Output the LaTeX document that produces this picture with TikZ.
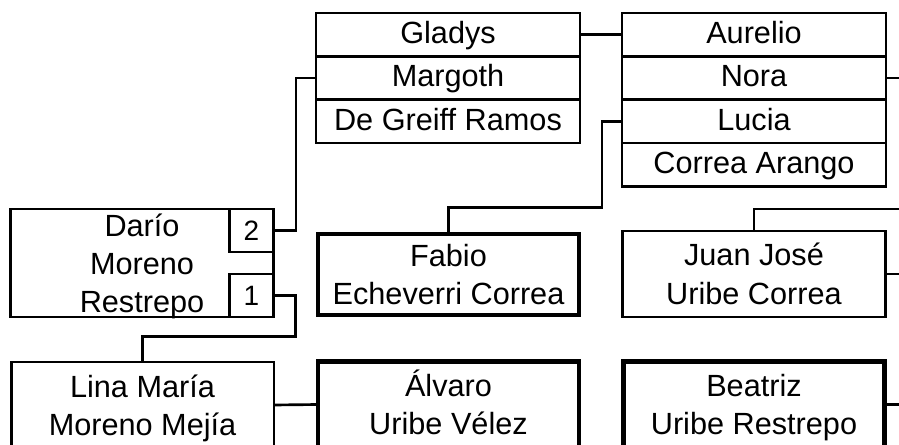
\documentclass[tikz,border=0pt]{standalone}
\usepackage{fontspec}
\setmainfont{Liberation Sans}
\usetikzlibrary{positioning}

\begin{document}
\begin{tikzpicture}[x=0.75pt,y=-0.75pt,
  person/.style={draw,line width=2pt,outer sep=0pt,inner sep=0pt,align=center,
    font=\fontsize{23}{28.5}\selectfont},
  row/.style={person,minimum width=198pt,minimum height=32.5pt,text height=16.5pt,text depth=3pt},
  box/.style={person,minimum width=197pt,minimum height=64.5pt,text height=45pt,text depth=0pt},
  bold/.style={line width=3.4pt,minimum width=196pt},
  slot/.style={draw,line width=2pt,outer sep=0pt,minimum width=33pt,
    minimum height=32.25pt,font=\fontsize{21}{24}\selectfont},
  link/.style={line width=2pt}]
  \path[use as bounding box,clip] (0,0) rectangle (899,445);
  \coordinate (E) at (905,0);
  \coordinate (T) at (905,209);
  % grandparents
  \node[row] (G1) at (448,34.65) {Gladys};
  \node[row, below=0pt of G1] (G2) {Margoth};
  \node[row, below=0pt of G2] (G3) {De Greiff Ramos};
  \node[row] (A1) at (754,34.65) {Aurelio};
  \node[row, below=0pt of A1] (A2) {Nora};
  \node[row, below=0pt of A2] (A3) {Lucia};
  \node[row, below=0pt of A3] (A4) {Correa Arango};
  % parents
  \node[box, minimum height=81pt, text height=73.5pt] (D) at (142,263) {Darío\\Moreno\\Restrepo};
  \node[slot, anchor=north east] (D2) at (D.north east) {2};
  \node[slot, anchor=south east] (D1) at (D.south east) {1};
  \node[box, bold, minimum height=61pt] (F) at (448.5,274.5) {Fabio\\Echeverri Correa};
  \node[box] (J) at (754,274) {Juan José\\Uribe Correa};
  % children
  \node[box, anchor=north] (L) at (142.5,362) {Lina María\\Moreno Mejía};
  \node[box, bold, anchor=north] (V) at (448.5,361.5) {Álvaro\\Uribe Vélez};
  \node[box, bold, anchor=north] (B) at (754,361.5) {Beatriz\\Uribe Restrepo};
  % links
  \draw[link] (G1.east) -- (A1.west);
  \draw[link] (G2.west) -- ++(-20,0) |- (D2.east);
  \draw[link] (A3.west) -- ++(-20,0) -- ++(0,86) -| (F.north);
  \draw[link] (D1.east) -- ++(22,0) -- ++(0,41) -| (L.north);
  \draw[link] (L.east) -- (V.west);
  \draw[link] (A2.east) -- (A2.east -| E);
  \draw[link] (J.north) |- (T);
  \draw[link] (J.east) -- (J.east -| E);
  \draw[link] (B.east) -- (B.east -| E);
\end{tikzpicture}
\end{document}
